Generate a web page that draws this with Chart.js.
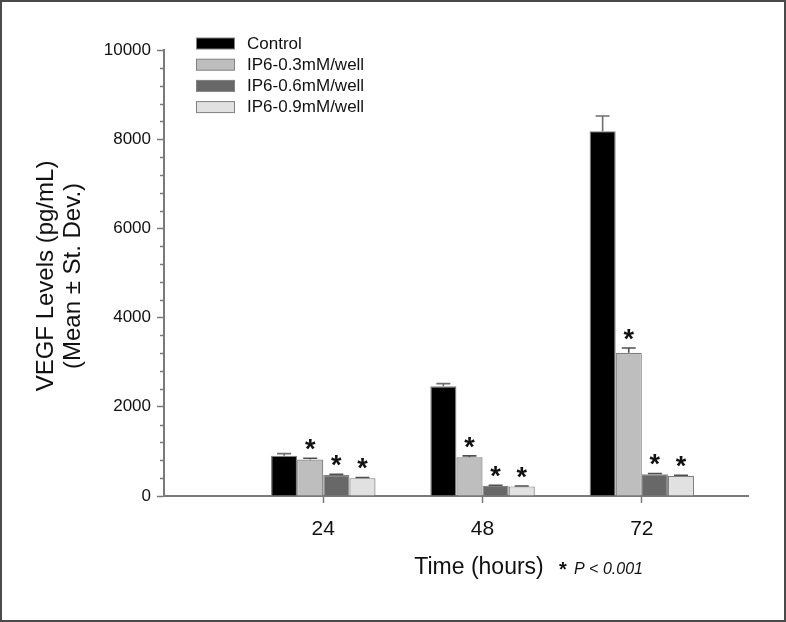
<!DOCTYPE html>
<html><head><meta charset="utf-8">
<script src="https://cdn.jsdelivr.net/npm/chart.js@4/dist/chart.umd.min.js"></script>
<style>html,body{margin:0;padding:0;background:#fff}#wrap{width:786px;height:622px;position:relative}</style>
</head><body><div id="wrap"><canvas id="c" width="786" height="622"></canvas></div>
<script>
// ---- data ----
const hours = [24, 48, 72];
const seriesNames = ['Control', 'IP6-0.3mM/well', 'IP6-0.6mM/well', 'IP6-0.9mM/well'];
const control = [900, 2460, 8180];
const ip03 = [820, 870, 3210];
const ip06 = [470, 230, 490];
const ip09 = [400, 215, 450];
const controlSD = [50, 60, 340];
const ip03SD = [25, 30, 110];
const ip06SD = [15, 10, 15];
const ip09SD = [15, 10, 15];
const significant = [false, true, true, true];
const yTicks = [0, 2000, 4000, 6000, 8000, 10000];
const yMinorStep = 400;
const xTitle = 'Time (hours)';
const yTitle = ['VEGF Levels (pg/mL)', '(Mean \u00B1 St. Dev.)'];
const footStar = '*';
const footnote = 'P < 0.001';

const FONT = '"Liberation Sans", Arial, sans-serif';
const colors = ['#000000', '#bebebe', '#686868', '#e1e1e1'];
const values = [control, ip03, ip06, ip09];
const sds = [controlSD, ip03SD, ip06SD, ip09SD];

const datasets = seriesNames.map((name, k) => ({
  label: name,
  data: hours.map((h, i) => ({ x: h, y: values[k][i] })),
  sd: sds[k],
  sig: significant[k],
  backgroundColor: colors[k],
  borderColor: '#808080',
  borderWidth: 1.2,
  categoryPercentage: 0.656,
  barPercentage: 1.0
}));

const framePlugin = {
  id: 'frame',
  beforeDraw(chart) {
    const ctx = chart.ctx;
    ctx.save();
    ctx.fillStyle = '#fff';
    ctx.fillRect(0, 0, chart.width, chart.height);
    ctx.restore();
  },
  afterDraw(chart) {
    const ctx = chart.ctx;
    ctx.save();
    ctx.strokeStyle = '#4a4a4a';
    ctx.lineWidth = 2;
    ctx.strokeRect(1, 1, chart.width - 2, chart.height - 2);
    ctx.restore();
  }
};

const minorTicks = {
  id: 'minorTicks',
  afterDraw(chart) {
    const y = chart.scales.y, ctx = chart.ctx;
    const left = chart.chartArea.left;
    ctx.save();
    ctx.strokeStyle = '#7a7a7a';
    ctx.lineWidth = 1.5;
    for (let v = y.min; v <= y.max; v += yMinorStep) {
      if (yTicks.includes(v)) continue;
      const py = Math.round(y.getPixelForValue(v)) + 0.5;
      ctx.beginPath();
      ctx.moveTo(left - 4, py);
      ctx.lineTo(left, py);
      ctx.stroke();
    }
    ctx.restore();
  }
};

const errorBars = {
  id: 'errorBars',
  afterDatasetsDraw(chart) {
    const ctx = chart.ctx, y = chart.scales.y;
    ctx.save();
    chart.data.datasets.forEach((ds, di) => {
      const meta = chart.getDatasetMeta(di);
      meta.data.forEach((bar, i) => {
        const v = ds.data[i].y, sd = ds.sd[i];
        const top = y.getPixelForValue(v + sd);
        ctx.strokeStyle = di === 0 ? '#6e6e6e' : '#505050';
        ctx.lineWidth = 1.6;
        ctx.beginPath();
        ctx.moveTo(bar.x, bar.y);
        ctx.lineTo(bar.x, top);
        ctx.moveTo(bar.x - 7, top);
        ctx.lineTo(bar.x + 7, top);
        ctx.stroke();
        if (ds.sig) {
          ctx.fillStyle = '#111';
          ctx.font = 'bold 27px ' + FONT;
          ctx.textAlign = 'center';
          ctx.textBaseline = 'alphabetic';
          ctx.fillText('*', bar.x, top - 16 + 16);
        }
      });
    });
    ctx.restore();
  }
};

const legendPlugin = {
  id: 'customLegend',
  afterDraw(chart) {
    const ctx = chart.ctx;
    ctx.save();
    chart.data.datasets.forEach((ds, k) => {
      const cy = 43.5 + k * 21.2;
      ctx.fillStyle = ds.backgroundColor;
      ctx.fillRect(196, cy - 5.5, 39, 11);
      ctx.strokeStyle = '#808080';
      ctx.lineWidth = 1;
      ctx.strokeRect(196.5, cy - 5.5, 38, 11);
      ctx.fillStyle = '#111';
      ctx.font = '17px ' + FONT;
      ctx.textAlign = 'left';
      ctx.textBaseline = 'middle';
      ctx.fillText(ds.label, 247, cy + 0.5);
    });
    ctx.restore();
  }
};

const titlesPlugin = {
  id: 'titles',
  afterDraw(chart) {
    const ctx = chart.ctx;
    ctx.save();
    ctx.fillStyle = '#111';
    ctx.textAlign = 'center';
    ctx.textBaseline = 'middle';
    ctx.font = '24px ' + FONT;
    const xs = [46, 73];
    yTitle.forEach((t, i) => {
      ctx.save();
      ctx.translate(xs[i], 276);
      ctx.rotate(-Math.PI / 2);
      ctx.fillText(t, 0, 0);
      ctx.restore();
    });
    ctx.font = '23px ' + FONT;
    ctx.fillText(xTitle, 479, 568);
    ctx.font = 'bold 20px ' + FONT;
    ctx.textAlign = 'left';
    ctx.textBaseline = 'alphabetic';
    ctx.fillText(footStar, 559, 576);
    ctx.font = 'italic 16px ' + FONT;
    ctx.textBaseline = 'middle';
    ctx.fillText(footnote, 574, 570);
    ctx.restore();
  }
};

new Chart(document.getElementById('c'), {
  type: 'bar',
  data: { datasets },
  options: {
    responsive: false,
    animation: false,
    events: [],
    layout: { padding: { left: 0, right: 38, top: 50, bottom: 0 } },
    plugins: { legend: { display: false }, tooltip: { enabled: false } },
    scales: {
      x: {
        type: 'linear', min: 0, max: 88, offset: false,
        grid: { offset: false, drawOnChartArea: false, drawTicks: true, tickLength: 7, tickColor: '#7a7a7a', tickWidth: 1.5 },
        border: { display: true, color: '#7a7a7a', width: 2 },
        afterBuildTicks: s => { s.ticks = hours.map(v => ({ value: v })); },
        ticks: { font: { family: FONT, size: 21 }, color: '#111', padding: 14, autoSkip: false, maxRotation: 0, callback: v => String(v) },
        afterFit: s => { s.height = 126; }
      },
      y: {
        min: 0, max: 10000,
        grid: { drawOnChartArea: false, drawTicks: true, tickLength: 7, tickColor: '#7a7a7a', tickWidth: 1.5 },
        border: { display: true, color: '#7a7a7a', width: 2 },
        afterBuildTicks: s => { s.ticks = yTicks.map(v => ({ value: v })); },
        ticks: { font: { family: FONT, size: 17 }, color: '#111', padding: 6, callback: v => String(v) },
        afterFit: s => { s.width = 164; }
      }
    }
  },
  plugins: [framePlugin, minorTicks, errorBars, legendPlugin, titlesPlugin]
});
</script></body></html>
